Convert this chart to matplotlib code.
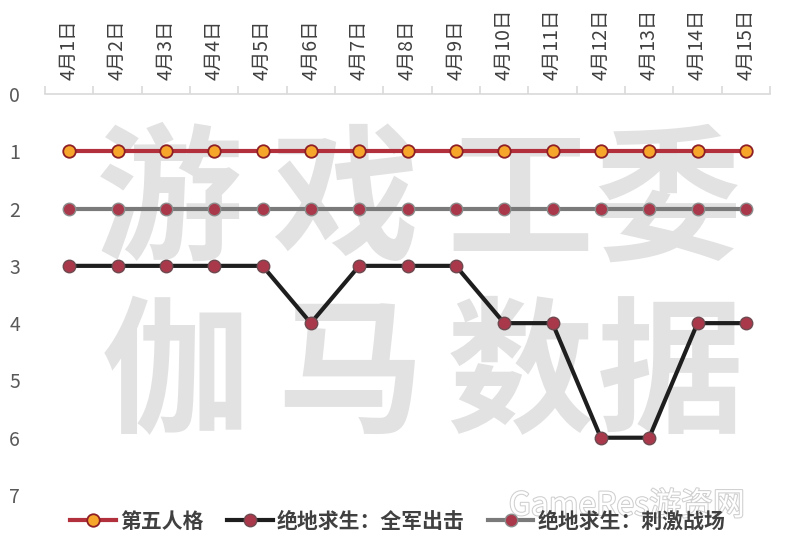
import matplotlib.pyplot as plt
import matplotlib.patheffects as pe

plt.rcParams['font.family'] = ['Noto Sans CJK SC', 'DejaVu Sans']

dates = ["4月%d日" % d for d in range(1, 16)]
diwu = [1] * 15
quanjun = [3, 3, 3, 3, 3, 4, 3, 3, 3, 4, 4, 6, 6, 4, 4]
ciji = [2] * 15
names = ["第五人格", "绝地求生：全军出击", "绝地求生：刺激战场"]

fig = plt.figure(figsize=(7.91, 5.38), dpi=100)

# watermark (behind everything)
wm_color = "#e2e2e2"
for ch, xc in zip("游戏工委", [170, 345, 520, 668]):
    fig.text(xc / 791, 1 - 205 / 538, ch, fontsize=106, fontweight="bold",
             color=wm_color, ha="center", va="center", zorder=-5)
for ch, xc in zip("伽马数据", [175, 350, 520, 670]):
    fig.text(xc / 791, 1 - 378 / 538, ch, fontsize=106, fontweight="bold",
             color=wm_color, ha="center", va="center", zorder=-5)
fig.text(627 / 791, 1 - 506 / 538, "GameRes游资网", fontsize=23, color="white",
         ha="center", va="center", zorder=-4,
         path_effects=[pe.withStroke(linewidth=1.5, foreground="#cfcfcf")])

ax = fig.add_axes([45 / 791, 1 - 495 / 538, 725 / 791, 401 / 538])
ax.patch.set_alpha(0)

x = list(range(len(dates)))
red_mk = "#a8384a"
ax.plot(x, ciji, color="#7a7a7a", lw=3, marker="o", ms=9,
        mfc=red_mk, mec="#8c8c8c", mew=1, label=names[2], zorder=3)
ax.plot(x, quanjun, color="#1e1e1e", lw=3, marker="o", ms=9,
        mfc=red_mk, mec="#6e4a50", mew=1, label=names[1], zorder=4)
ax.plot(x, diwu, color="#b2303b", lw=3, marker="o", ms=9,
        mfc="#f6a62b", mec="#8e1f25", mew=1.3, label=names[0], zorder=5)

ax.set_xlim(-0.5, 14.5)
ax.set_ylim(7, 0)
ax.set_yticks(range(8))

for s in ["right", "bottom", "left"]:
    ax.spines[s].set_visible(False)
ax.spines["top"].set_color("#d9d9d9")
ax.spines["top"].set_linewidth(1.2)

ax.xaxis.tick_top()
ax.set_xticks(x)
ax.set_xticklabels(dates, rotation=90, fontsize=14, color="#404040")
ax.set_xticks([i - 0.5 for i in range(16)], minor=True)
ax.tick_params(axis="x", which="major", length=0, pad=10)
ax.tick_params(axis="x", which="minor", length=6, color="#d9d9d9", width=1.2, top=True)
ax.tick_params(axis="y", length=0, labelsize=14, labelcolor="#595959", pad=18)

handles, labels = ax.get_legend_handles_labels()
order = [2, 1, 0]
leg = fig.legend([handles[i] for i in order], [labels[i] for i in order],
                 loc="center", bbox_to_anchor=(398 / 791, 1 - 521 / 538),
                 ncol=3, frameon=False, handlelength=2.2, handletextpad=0.2,
                 columnspacing=1.1, prop={"size": 15, "weight": "bold"})
for t in leg.get_texts():
    t.set_color("#404040")

plt.savefig("out.png", dpi=100)
